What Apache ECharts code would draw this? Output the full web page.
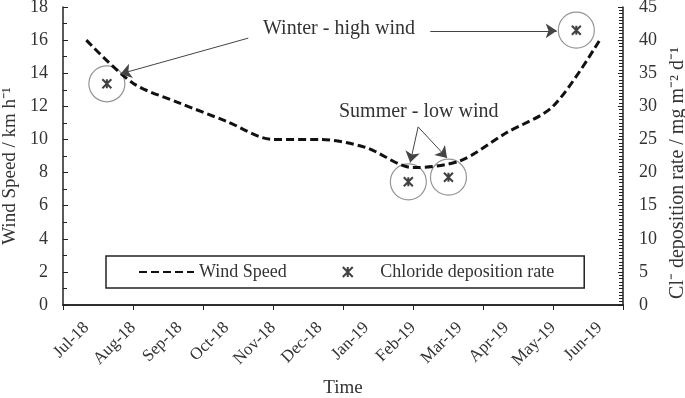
<!DOCTYPE html>
<html>
<head>
<meta charset="utf-8">
<script src="https://cdn.jsdelivr.net/npm/echarts@6/dist/echarts.min.js"></script>
<style>
  html, body { margin: 0; padding: 0; background: #fff; }
  #chart { width: 685px; height: 398px; }
</style>
</head>
<body>
<div id="chart"></div>
<script>
// months on the category axis
const months = ["Jul-18", "Aug-18", "Sep-18", "Oct-18", "Nov-18", "Dec-18",
                "Jan-19", "Feb-19", "Mar-19", "Apr-19", "May-19", "Jun-19"];
// wind speed, km/h (left axis)
const windSpeed = [16, 13.4, 12.2, 11.1, 10, 10, 9.5, 8.3, 8.7, 10.4, 12, 16];
// chloride deposition samples: time in months from 1 Jul 2018, rate (right axis)
const chlorideMonth = [0.94, 7.4, 8.26, 11.0];
const chlorideRate = [33.4, 18.6, 19.3, 41.5];
// annotation arrows, [from, to] in (month, rate) units
const arrows = [
    [[3.97, 40.3], [1.23, 34.9]],
    [[7.87, 41.4], [10.58, 41.4]],
    [[7.61, 26.9], [7.44, 21.5]],
    [[7.61, 26.9], [8.23, 22.2]]
];

const serif = '"Liberation Serif", "Times New Roman", serif';
const txt = "#333";
const axisCol = "#222";

const chloridePts = chlorideMonth.map((m, i) => [m, chlorideRate[i]]);

const chart = echarts.init(document.getElementById("chart"));
chart.setOption({
    animation: false,
    textStyle: { fontFamily: serif, color: txt },
    grid: { left: 63, right: 62, top: 7, bottom: 93, outerBoundsMode: "none", containLabel: false },
    legend: {
        data: [
            { name: "Wind Speed", itemStyle: { opacity: 0 } },
            "Chloride deposition rate"
        ],
        left: 106,
        top: 256,
        padding: [7, 30, 7, 32],
        itemGap: 55,
        itemWidth: 55,
        itemHeight: 10,
        borderColor: axisCol,
        borderWidth: 1.5,
        textStyle: { fontFamily: serif, fontSize: 18, color: txt }
    },
    xAxis: [
        {
            type: "category",
            data: months,
            boundaryGap: true,
            axisLine: { lineStyle: { color: axisCol, width: 1.5 } },
            axisTick: { inside: true, length: 5, lineStyle: { color: axisCol } },
            axisLabel: { interval: 0, rotate: 45, margin: 20, fontFamily: serif, fontSize: 17, color: txt },
            name: "Time",
            nameLocation: "middle",
            nameGap: 74,
            nameTextStyle: { fontFamily: serif, fontSize: 19, color: txt }
        },
        {
            type: "value",
            position: "top",
            min: 0,
            max: 12,
            interval: 1.5,
            axisLine: { show: true, lineStyle: { color: axisCol, width: 1.5 } },
            axisTick: { show: true, inside: true, length: 5, lineStyle: { color: axisCol } },
            axisLabel: { show: false },
            splitLine: { show: false }
        }
    ],
    yAxis: [
        {
            type: "value",
            min: 0,
            max: 18,
            interval: 2,
            axisLine: { show: true, lineStyle: { color: axisCol, width: 1.5 } },
            axisTick: { show: true, inside: true, length: 5, lineStyle: { color: axisCol } },
            minorTick: { show: true, splitNumber: 2, length: 4, lineStyle: { color: axisCol } },
            axisLabel: { margin: 15, fontFamily: serif, fontSize: 18, color: txt },
            splitLine: { show: false },
            name: "Wind Speed / km h\u207B\u00B9",
            nameLocation: "middle",
            nameRotate: 90,
            nameGap: 40,
            nameTextStyle: { fontFamily: serif, fontSize: 19, color: txt, padding: [0, 20, 0, 0] }
        },
        {
            type: "value",
            min: 0,
            max: 45,
            interval: 5,
            position: "right",
            axisLine: { show: true, lineStyle: { color: axisCol, width: 1.5 } },
            axisTick: { show: true, inside: true, length: 5, lineStyle: { color: axisCol } },
            minorTick: { show: true, splitNumber: 10, length: 4, lineStyle: { color: axisCol } },
            axisLabel: { margin: 16, fontFamily: serif, fontSize: 18, color: txt },
            splitLine: { show: false },
            name: "Cl\u207B deposition rate / mg m\u207B\u00B2 d\u207B\u00B9",
            nameLocation: "middle",
            nameRotate: 90,
            nameGap: 43,
            nameTextStyle: { fontFamily: serif, fontSize: 20, color: txt, padding: [0, 34, 0, 0] }
        }
    ],
    graphic: [
        {
            type: "text",
            left: 263,
            top: 19,
            style: { text: "Winter - high wind", font: "20px " + serif, fill: txt }
        },
        {
            type: "text",
            left: 339,
            top: 102,
            style: { text: "Summer - low wind", font: "20px " + serif, fill: txt }
        }
    ],
    series: [
        {
            name: "Wind Speed",
            type: "line",
            xAxisIndex: 0,
            yAxisIndex: 0,
            data: windSpeed,
            smooth: 0.3,
            symbol: "none",
            lineStyle: { color: "#111", width: 3, type: [8, 4] },
            itemStyle: { color: "#111" }
        },
        {
            name: "circles",
            type: "scatter",
            xAxisIndex: 1,
            yAxisIndex: 1,
            data: chloridePts,
            symbol: "circle",
            symbolSize: 36,
            itemStyle: { color: "rgba(0,0,0,0)", borderColor: "#7a7a7a", borderWidth: 1.2 },
            silent: true,
            markLine: {
                silent: true,
                symbol: ["none", "arrow"],
                symbolSize: 11,
                label: { show: false },
                lineStyle: { color: "#444", width: 1, type: "solid" },
                data: arrows.map((a) => [{ coord: a[0] }, { coord: a[1] }])
            }
        },
        {
            name: "Chloride deposition rate",
            type: "scatter",
            xAxisIndex: 1,
            yAxisIndex: 1,
            data: chloridePts,
            symbol: "path://M0,0L10,10M10,0L0,10M5,0L5,10",
            symbolSize: 9,
            itemStyle: { color: "rgba(0,0,0,0)", borderColor: "#111", borderWidth: 2 }
        }
    ]
});
</script>
</body>
</html>
